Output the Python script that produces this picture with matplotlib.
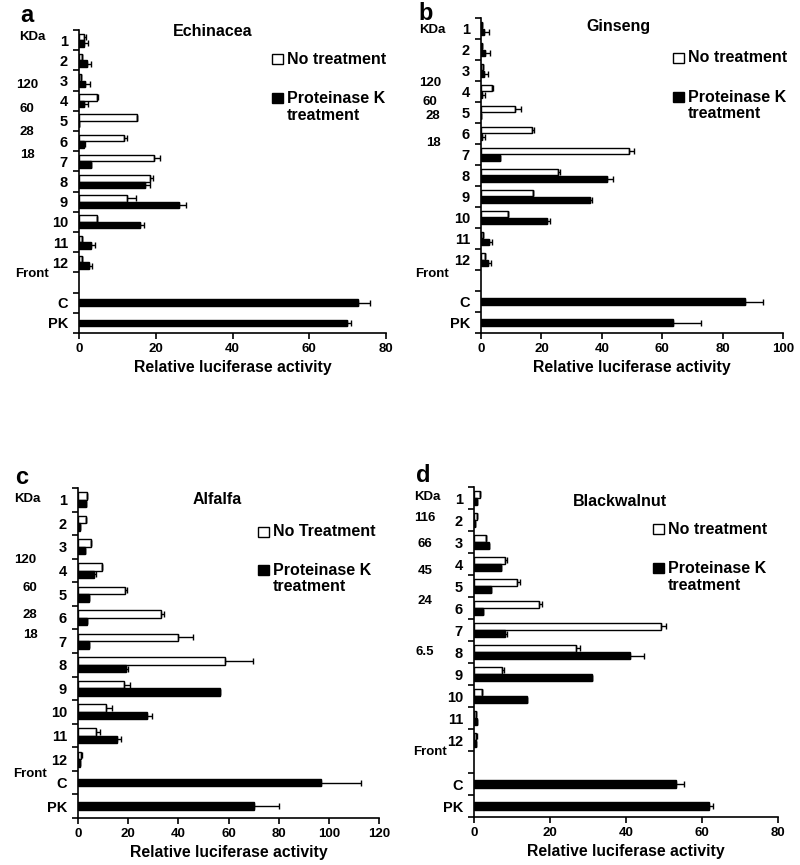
import numpy as np
import matplotlib
matplotlib.use("Agg")
import matplotlib.pyplot as plt
from matplotlib import transforms
from matplotlib.patches import Rectangle

plt.rcParams['font.family'] = ['Liberation Sans', 'DejaVu Sans']
plt.rcParams['font.weight'] = 'bold'

# ---------------- data ----------------
cats_a = ['1', '2', '3', '4', '5', '6', '7', '8', '9', '10', '11', '12', '', 'C', 'PK']
nt_a = [1.3, 0.7, 0.6, 4.7, 15.1, 11.6, 19.5, 18.5, 12.6, 4.7, 0.7, 0.7]
nt_a_err = [0.6, 0, 0, 0.2, 0, 1.0, 1.6, 0.7, 2.2, 0, 0, 0]
pk_a = [1.2, 2.1, 1.5, 1.2, 0, 1.2, 3.0, 17.3, 26.0, 16.0, 3.0, 2.5]
pk_a_err = [1.1, 1.1, 1.3, 1.1, 0, 0.3, 0, 1.2, 1.8, 1.0, 1.1, 1.0]
ctrl_a = [72.8, 69.8]
ctrl_a_err = [3.0, 1.0]

cats_b = ['1', '2', '3', '4', '5', '6', '7', '8', '9', '10', '11', '12', '', 'C', 'PK']
nt_b = [0.4, 0.3, 0.6, 3.6, 11.4, 16.9, 49.0, 25.5, 17.2, 9.0, 0.8, 1.2]
nt_b_err = [0, 0, 0, 0.3, 1.7, 0.8, 1.8, 0.7, 0, 0, 0, 0]
pk_b = [1.1, 1.4, 1.1, 0.4, 0, 0.3, 6.2, 41.8, 36.0, 22.0, 2.8, 2.4]
pk_b_err = [1.5, 1.5, 1.3, 1.0, 0, 0.9, 0, 2.0, 0.8, 0.7, 1.0, 1.0]
ctrl_b = [87.3, 63.5]
ctrl_b_err = [6.0, 9.3]

cats_c = ['1', '2', '3', '4', '5', '6', '7', '8', '9', '10', '11', '12', 'C', 'PK']
nt_c = [3.7, 3.3, 5.3, 9.7, 18.6, 32.9, 40.0, 58.5, 18.3, 11.3, 7.0, 1.3]
nt_c_err = [0, 0, 0, 0, 0.9, 1.2, 6.0, 11.3, 2.5, 2.2, 1.7, 0.3]
pk_c = [3.1, 0.9, 2.7, 6.4, 4.2, 3.6, 4.5, 19.0, 56.5, 27.5, 15.7, 0.9]
pk_c_err = [0, 0, 0, 0.9, 0, 0, 0, 1.0, 0, 2.0, 1.5, 0]
ctrl_c = [97.0, 70.3]
ctrl_c_err = [15.8, 9.9]

cats_d = ['1', '2', '3', '4', '5', '6', '7', '8', '9', '10', '11', '12', '', 'C', 'PK']
nt_d = [1.5, 0.7, 3.2, 8.1, 11.4, 17.0, 49.3, 26.9, 7.3, 2.2, 0.5, 0.6]
nt_d_err = [0, 0, 0, 0.7, 0.6, 0.9, 1.2, 1.1, 0.7, 0, 0, 0.3]
pk_d = [0.7, 0.35, 3.9, 7.0, 4.4, 2.4, 8.2, 41.0, 31.0, 14.0, 0.8, 0.4]
pk_d_err = [0, 0, 0, 0, 0, 0, 0.6, 3.8, 0, 0, 0, 0]
ctrl_d = [53.2, 61.8]
ctrl_d_err = [2.0, 1.0]

markers_a = ['KDa', '120', '60', '28', '18', 'Front']
markers_b = ['KDa', '120', '60', '28', '18', 'Front']
markers_c = ['KDa', '120', '60', '28', '18', 'Front']
markers_d = ['KDa', '116', '66', '45', '24', '6.5', 'Front']

# ---------------- layout ----------------
W, H = 800, 865
fig = plt.figure(figsize=(W / 100, H / 100), dpi=100)


def axes_px(l, r, t, b):
    return fig.add_axes([l / W, 1 - b / H, (r - l) / W, (b - t) / H])


def fx(x):
    return x / W


def fy(y):
    return 1 - y / H


BH = 0.32
EKW = dict(ecolor='black', lw=1.0, capsize=2.5, capthick=1.0)


def panel(ax, cats, nt, nt_err, pk, pk_err, ctrl, ctrl_err, xmax, xstep,
          letter, title, leg1, markers, marker_y, marker_x, pos):
    n = len(cats)
    idx = np.arange(len(nt))
    ax.barh(idx - BH / 2, nt, height=BH, color='white', edgecolor='black', lw=1.0,
            xerr=[np.zeros(len(nt)), nt_err], error_kw=EKW)
    ax.barh(idx + BH / 2, pk, height=BH, color='black', edgecolor='black', lw=1.0,
            xerr=[np.zeros(len(pk)), pk_err], error_kw=EKW)
    cidx = np.array([n - 2, n - 1])
    ax.barh(cidx, ctrl, height=BH, color='black', edgecolor='black', lw=1.0,
            xerr=[np.zeros(2), ctrl_err], error_kw=EKW)
    ax.set_ylim(n - 0.5, -0.5)
    ax.set_xlim(0, xmax)
    ax.set_yticks(np.arange(-0.5, n, 1.0))
    ax.set_yticklabels([])
    ax.set_yticks(np.arange(n), minor=True)
    ax.set_yticklabels(cats, minor=True, fontsize=10.5, fontweight='bold')
    ax.tick_params(axis='y', which='major', length=4, width=1.2, direction='out')
    ax.tick_params(axis='y', which='minor', length=0, pad=8)
    ax.set_xticks(np.arange(0, xmax + 1, xstep))
    ax.tick_params(axis='x', length=4, width=1.2, direction='out', labelsize=9.5)
    for lab in ax.get_xticklabels():
        lab.set_fontweight('bold')
    for s in ['top', 'right']:
        ax.spines[s].set_visible(False)
    for s in ['left', 'bottom']:
        ax.spines[s].set_linewidth(1.2)
    ax.set_xlabel('Relative luciferase activity', fontsize=11.3, fontweight='bold', labelpad=3)
    lx, ly, tx, ty, sqx, y1, y2, y3 = pos
    fig.text(fx(lx), fy(ly), letter, fontsize=17, fontweight='bold', ha='left', va='center')
    fig.text(fx(tx), fy(ty), title, fontsize=11.5, fontweight='bold', ha='center', va='center')
    # legend
    for yy, fc in [(y1, 'white'), (y2, 'black')]:
        fig.add_artist(Rectangle((fx(sqx), fy(yy + 5)), 11 / W, 10 / H, transform=fig.transFigure,
                                 facecolor=fc, edgecolor='black', lw=1.0))
    fig.text(fx(sqx + 15), fy(y1), leg1, fontsize=11.5, fontweight='bold', ha='left', va='center')
    fig.text(fx(sqx + 15), fy((y2 + y3) / 2), 'Proteinase K\ntreatment', fontsize=11.5,
             fontweight='bold', ha='left', va='center', linespacing=1.1)
    tr = transforms.blended_transform_factory(fig.transFigure, ax.transData)
    for m, my, mx in zip(markers, marker_y, marker_x):
        ax.text(fx(mx), my, m, transform=tr, fontsize=9.5, fontweight='bold', ha='center', va='center')


ax_a = axes_px(79, 386, 30, 333)
panel(ax_a, cats_a, nt_a, nt_a_err, pk_a, pk_a_err, ctrl_a, ctrl_a_err, 80, 20,
      'a', 'Echinacea', 'No treatment', markers_a,
      [-0.15, 2.22, 3.41, 4.55, 5.69, 11.58], [32, 27, 27, 27, 27, 32],
      (20, 15, 213, 31, 272, 59, 98, 116))

ax_b = axes_px(481, 783, 18, 333)
panel(ax_b, cats_b, nt_b, nt_b_err, pk_b, pk_b_err, ctrl_b, ctrl_b_err, 100, 20,
      'b', 'Ginseng', 'No treatment', markers_b,
      [0.07, 2.6, 3.5, 4.17, 5.45, 11.69], [432, 430, 430, 433, 433, 432],
      (418, 13, 618, 27, 673, 58, 97, 114))

ax_c = axes_px(78, 379, 488, 818)
panel(ax_c, cats_c, nt_c, nt_c_err, pk_c, pk_c_err, ctrl_c, ctrl_c_err, 120, 20,
      'c', 'Alfalfa', 'No Treatment', markers_c,
      [-0.03, 2.55, 3.74, 4.88, 5.73, 11.62], [27, 25, 30, 30, 30, 30],
      (15, 478, 217, 499, 258, 532, 570, 587))

ax_d = axes_px(474, 778, 487, 817)
panel(ax_d, cats_d, nt_d, nt_d_err, pk_d, pk_d_err, ctrl_d, ctrl_d_err, 80, 20,
      'd', 'Blackwalnut', 'No treatment', markers_d,
      [-0.05, 0.91, 2.09, 3.32, 4.68, 7.0, 11.55], [427, 425, 425, 425, 425, 425, 430],
      (416, 476, 620, 501, 653, 529, 568, 586))

fig.savefig('out.png', dpi=100)
